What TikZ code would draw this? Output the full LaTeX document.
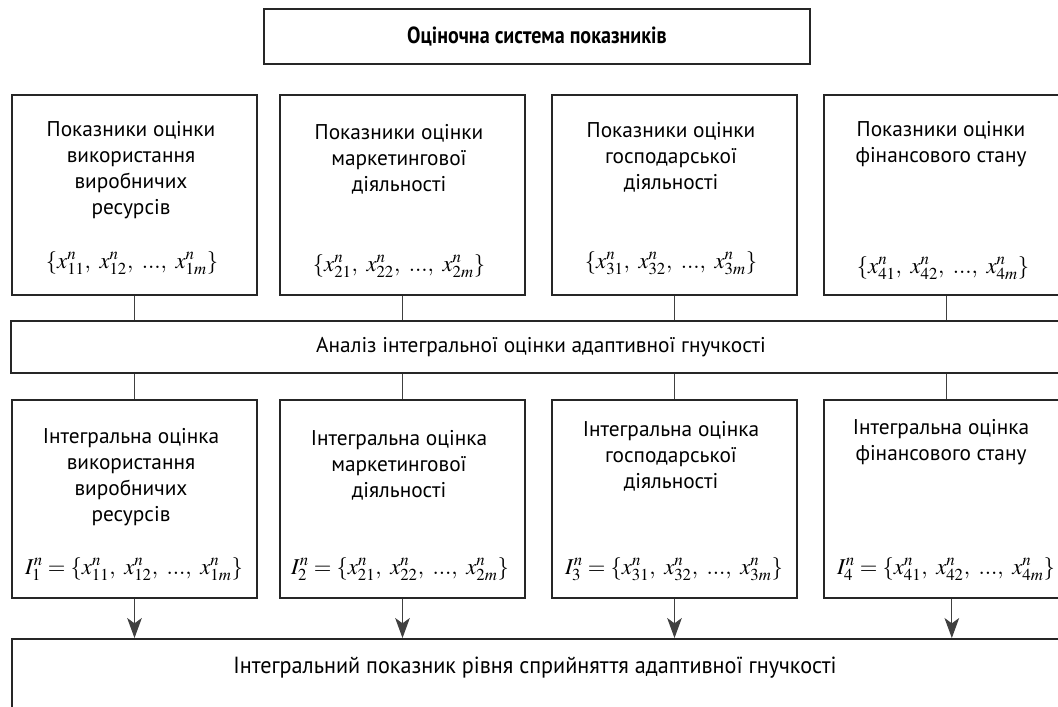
\documentclass[tikz,border=0pt]{standalone}
\usepackage{mathptmx}
\usepackage[no-math]{fontspec}
\setmainfont{PT Sans}
\newfontfamily\condfont[FakeStretch=0.86]{PT Sans}
\newfontfamily\narrowfont[FakeStretch=0.95]{PT Sans}
\usetikzlibrary{arrows.meta}

\begin{document}
\begin{tikzpicture}[x=0.75pt,y=-0.75pt,
    box/.style={draw=black!85,line width=1.5pt,minimum width=183.75pt,inner sep=0pt},
    lbl/.style={align=center,inner sep=0pt,font=\fontsize{16}{19.5}\selectfont},
    frm/.style={inner sep=0pt,font=\fontsize{17}{20}\selectfont},
    link/.style={draw=black!75,line width=0.8pt},
    flow/.style={link,-{Stealth[length=15pt,width=11pt,inset=4pt]}}]
    \useasboundingbox (0,0) rectangle (1058,707);
    \clip (0,0) rectangle (1058,707);

    % top
    \node[box,minimum width=409.5pt,minimum height=41.25pt,font=\condfont\bfseries\fontsize{17.5}{20}\selectfont] (sys) at (537,36.5) {Оціночна система показників};

    % first row: groups of indicators
    \node[box,minimum height=150pt] (ind1) at (134.5,195) {};
    \node[box,minimum height=150pt] (ind2) at (402.5,195) {};
    \node[box,minimum height=150pt] (ind3) at (674.5,195) {};
    \node[box,minimum height=150pt] (ind4) at (946.5,195) {};
    \node[lbl,anchor=north] (indt1) at (131,121) {Показники оцінки\\використання\\виробничих\\ресурсів};
    \node[lbl,anchor=north] (indt2) at (399,124) {Показники оцінки\\маркетингової\\діяльності};
    \node[lbl,anchor=north] (indt3) at (671,122) {Показники оцінки\\господарської\\діяльності};
    \node[lbl,anchor=north] (indt4) at (941,121) {Показники оцінки\\фінансового стану};
    \node[frm,anchor=base] (indm1) at (132,268) {$\{x^n_{11},\ x^n_{12},\ ...,\ x^n_{1m}\}$};
    \node[frm,anchor=base] (indm2) at (399,271) {$\{x^n_{21},\ x^n_{22},\ ...,\ x^n_{2m}\}$};
    \node[frm,anchor=base] (indm3) at (671,268) {$\{x^n_{31},\ x^n_{32},\ ...,\ x^n_{3m}\}$};
    \node[frm,anchor=base] (indm4) at (943,273) {$\{x^n_{41},\ x^n_{42},\ ...,\ x^n_{4m}\}$};

    % analysis bar
    \node[box,minimum width=795pt,minimum height=39pt,font=\fontsize{16}{18}\selectfont] (anal) at (541,347) {Аналіз інтегральної оцінки адаптивної гнучкості};

    % second row: integral estimates
    \node[box,minimum height=148.5pt] (int1) at (134.5,499) {};
    \node[box,minimum height=148.5pt] (int2) at (402.5,499) {};
    \node[box,minimum height=148.5pt] (int3) at (674.5,499) {};
    \node[box,minimum height=148.5pt] (int4) at (946.5,499) {};
    \node[lbl,anchor=north] (intt1) at (131,428) {Інтегральна оцінка\\використання\\виробничих\\ресурсів};
    \node[lbl,anchor=north] (intt2) at (399,430) {Інтегральна оцінка\\маркетингової\\діяльності};
    \node[lbl,anchor=north] (intt3) at (671,421) {Інтегральна оцінка\\господарської\\діяльності};
    \node[lbl,anchor=north] (intt4) at (941,419) {Інтегральна оцінка\\фінансового стану};
    \node[frm,anchor=base] (intm1) at (134,574) {$I^n_1=\{x^n_{11},\ x^n_{12},\ ...,\ x^n_{1m}\}$};
    \node[frm,anchor=base] (intm2) at (400,574) {$I^n_2=\{x^n_{21},\ x^n_{22},\ ...,\ x^n_{2m}\}$};
    \node[frm,anchor=base] (intm3) at (674,574) {$I^n_3=\{x^n_{31},\ x^n_{32},\ ...,\ x^n_{3m}\}$};
    \node[frm,anchor=base] (intm4) at (946,574) {$I^n_4=\{x^n_{41},\ x^n_{42},\ ...,\ x^n_{4m}\}$};

    % bottom box, runs past the edge of the page
    \node[box,minimum width=816pt,minimum height=75.75pt] (total) at (556,689.5) {};
    \node[anchor=base,inner sep=0pt,font=\narrowfont\fontsize{17.5}{20}\selectfont] (totalt) at (535,673) {Інтегральний показник рівня сприйняття адаптивної гнучкості};

    % connectors
    \draw[link] (ind1.south) -- (ind1.south |- anal.north);
    \draw[link] (ind2.south) -- (ind2.south |- anal.north);
    \draw[link] (ind3.south) -- (ind3.south |- anal.north);
    \draw[link] (ind4.south) -- (ind4.south |- anal.north);
    \draw[link] (anal.south -| int1.north) -- (int1.north);
    \draw[link] (anal.south -| int2.north) -- (int2.north);
    \draw[link] (anal.south -| int3.north) -- (int3.north);
    \draw[link] (anal.south -| int4.north) -- (int4.north);
    \draw[flow] (int1.south) -- (int1.south |- total.north);
    \draw[flow] (int2.south) -- (int2.south |- total.north);
    \draw[flow] (int3.south) -- (int3.south |- total.north);
    \draw[flow] ([xshift=4pt]int4.south) -- ([xshift=4pt]int4.south |- total.north);
\end{tikzpicture}
\end{document}
